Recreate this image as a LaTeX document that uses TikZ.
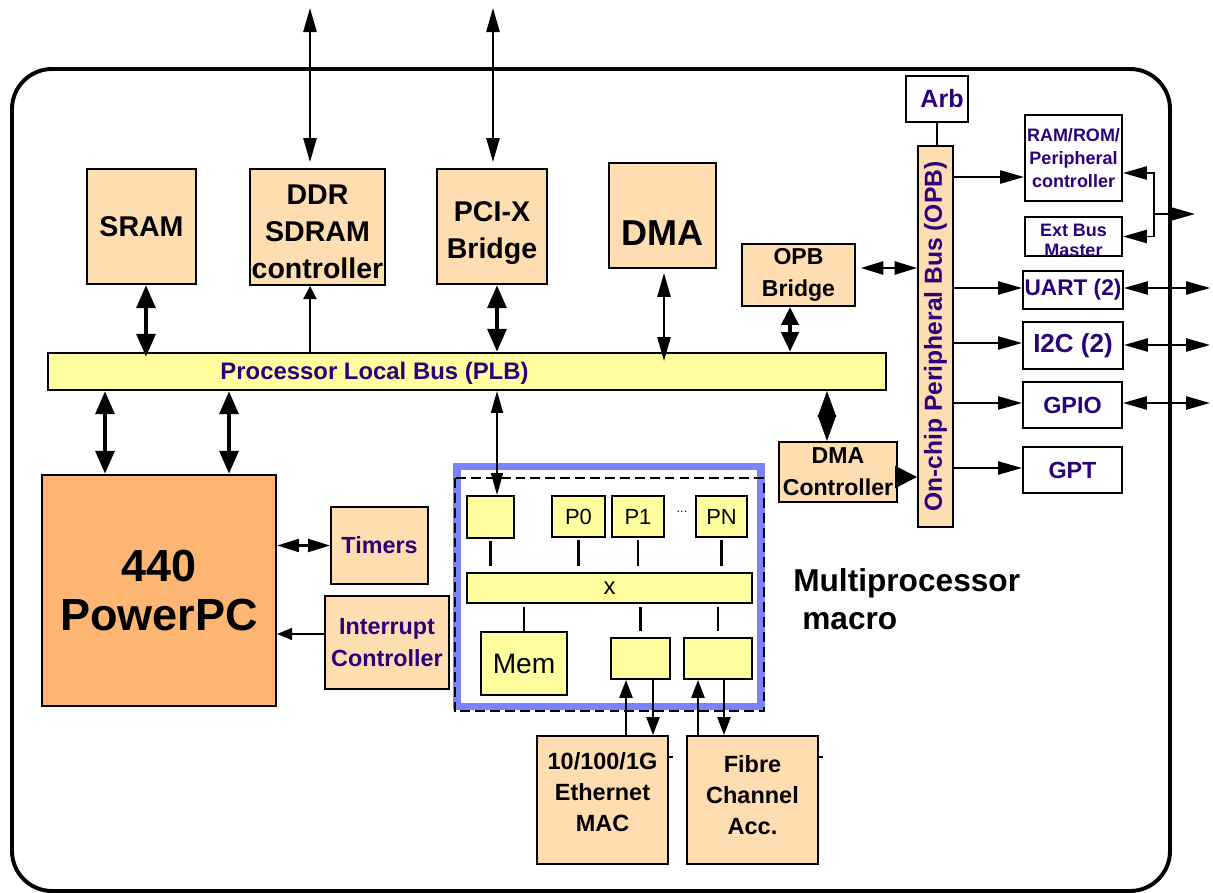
\documentclass[tikz,border=0pt]{standalone}
\usepackage{fontspec}
\setmainfont{Liberation Sans}
\usepackage{graphicx}
\usetikzlibrary{arrows.meta}

\definecolor{peach}{RGB}{254,221,176}
\definecolor{plbyel}{RGB}{255,255,160}
\definecolor{ppcorange}{RGB}{253,181,115}
\definecolor{navy}{RGB}{44,0,122}
\definecolor{mpblue}{RGB}{122,132,248}

\def\pxl{0.025cm}
% invisible struts to nudge text inside a box
\newcommand\hstrut[1]{\rule{0pt}{#1}}
\newcommand\dstrut[1]{\rule[-#1]{0pt}{#1}}

\tikzset{
	blk/.style={draw, line width=1.4pt, fill=peach, inner sep=0pt, align=center, font=\bfseries},
	wbox/.style={blk, fill=white, text=navy},
	ybox/.style={draw, line width=1.4pt, fill=plbyel, inner sep=0pt, align=center},
	sz/.style 2 args={minimum width=#1*\pxl, minimum height=#2*\pxl},
	fnt/.style 2 args={font=\bfseries\fontsize{#1}{#2}\selectfont},
	rfnt/.style 2 args={font=\fontsize{#1}{#2}\selectfont},
	fat/.style={line width=3.5pt, {Triangle[length=0.58cm,width=0.46cm]}-{Triangle[length=0.58cm,width=0.46cm]}},
	diam/.style={line width=1pt, {Triangle[length=0.65cm,width=0.46cm]}-{Triangle[length=0.65cm,width=0.46cm]}},
	lnk/.style={line width=1.4pt, >={Triangle[length=0.6cm,width=0.33cm]}},
	sm/.style={line width=1.4pt, >={Triangle[length=0.45cm,width=0.33cm]}},
	mid/.style={line width=2pt, >={Triangle[length=0.55cm,width=0.32cm]}},
}

\begin{document}
\begin{tikzpicture}[x=\pxl, y=-\pxl, line join=miter]
	\useasboundingbox (0,0) rectangle (1213,893);

	% Chip outline
	\draw[line width=2.8pt, rounded corners=1cm] (12,69) rectangle (1170,891);

	% Blocks above the PLB
	\node[blk, sz={109}{115}, fnt={20.3}{26.3}] (sram) at (141.5,226.5) {SRAM};
	\node[blk, sz={135}{116}, fnt={20.3}{26.3}] (ddr) at (317.5,227) {\hstrut{21pt}DDR\\SDRAM\\controller};
	\node[blk, sz={110}{115}, fnt={20.3}{26.3}] (pcix) at (492,226.5) {\hstrut{24pt}PCI-X\\Bridge};
	\node[blk, sz={107}{105}, fnt={25.6}{30}] (dma) at (662.5,215.5) {\hstrut{42pt}DMA};
	\node[blk, sz={113}{62}, fnt={16.4}{22.7}] (opbbr) at (798.5,275) {OPB\\Bridge};

	% Processor local bus
	\node[ybox, sz={838}{37}] (plb) at (467,371.5) {};
	\node[text=navy, fnt={17}{20}] (plbtxt) at (374.5,373) {Processor Local Bus (PLB)};

	% CPU and its neighbours
	\node[blk, fill=ppcorange, sz={234}{231}, fnt={32}{35.5}] (ppc) at (159,590.5) {440\\PowerPC};
	\node[blk, text=navy, sz={97}{77}, fnt={16.6}{23}] (tmr) at (379.5,545.5) {Timers};
	\node[blk, text=navy, sz={124}{93}, fnt={16.6}{23}] (intc) at (387,642.5) {Interrupt\\Controller};
	\node[blk, sz={118}{60}, fnt={16.4}{22.7}] (dmac) at (838,472) {DMA\\Controller};

	% On-chip peripheral bus and its devices
	\node[blk, text=navy, sz={35}{381}, fnt={17.5}{20}] (opb) at (935.5,336.5) {\rotatebox{90}{On-chip Peripheral Bus (OPB)}};
	\node[wbox, sz={62}{46}, fnt={17.8}{20}] (arb) at (937,99) {\hspace{0.25cm}Arb};
	\node[wbox, sz={97}{86}, fnt={12.8}{16.4}] (ramrom) at (1073.5,158) {RAM/ROM/\\Peripheral\\controller};
	\node[wbox, sz={97}{39}, fnt={12.8}{14.2}] (extbus) at (1073.5,236.5) {\hstrut{14pt}Ext Bus\\Master};
	\node[wbox, sz={100}{38}, fnt={16.1}{20}] (uart) at (1073,290) {UART (2)};
	\node[wbox, sz={100}{47}, fnt={18.5}{20}] (iic) at (1073,345.5) {I2C (2)};
	\node[wbox, sz={99}{46}, fnt={16.6}{20}] (gpio) at (1072.5,405) {GPIO};
	\node[wbox, sz={99}{46}, fnt={16.6}{20}] (gpt) at (1072.5,470) {GPT};

	% Multiprocessor macro
	\draw[mpblue, line width=5pt] (457,466.5) rectangle (761,706.5);
	\draw[line width=1.5pt, dash pattern=on 7pt off 3.6pt] (455,478) rectangle (764,711);
	\node[ybox, sz={47}{42}] (mpin) at (490.5,517) {};
	\node[ybox, sz={53}{41}, rfnt={15.6}{18}] (p0) at (578.5,516.5) {P0};
	\node[ybox, sz={52}{41}, rfnt={15.6}{18}] (p1) at (638,516.5) {P1};
	\node[ybox, sz={51}{41}, rfnt={15.6}{18}] (pn) at (721.5,516.5) {PN};
	\node[rfnt={9}{10}] (dots) at (682,512) {...};
	\node[ybox, sz={285}{30}, rfnt={17}{20}] (xbar) at (609.5,588) {x};
	\node[ybox, sz={86}{63}, rfnt={20}{24}] (mem) at (524,663.5) {Mem};
	\node[ybox, sz={59}{41}] (ethp) at (640.5,658.5) {};
	\node[ybox, sz={68}{41}] (fcp) at (718,658.5) {};
	\node[anchor=north west, inner sep=0pt, align=left, fnt={22.5}{27}] (mplabel) at (793,568) {Multiprocessor\\\hspace{0.225cm}macro};

	% Links inside the macro
	\foreach \n in {mpin,p0,p1,pn}
		\draw[line width=1.6pt] ([yshift=-2*\pxl]\n.south) -- ([yshift=6*\pxl]\n.south |- xbar.north);
	\draw[line width=1.6pt] ([yshift=-3*\pxl]xbar.south -| mem.north) -- (mem.north);
	\foreach \n in {ethp,fcp}
		\draw[line width=1.6pt] ([yshift=-3*\pxl]xbar.south -| \n.north) -- ([yshift=6*\pxl]\n.north);

	% Network blocks
	\node[blk, sz={131}{128}, fnt={16.7}{22}] (eth) at (602.5,800) {10/100/1G\\Ethernet\\MAC\dstrut{11pt}};
	\node[blk, sz={131}{128}, fnt={16.7}{22}] (fc) at (752.5,800) {Fibre\\Channel\\Acc.\dstrut{7pt}};
	\draw[line width=1.4pt] (eth.east |- 0,757) -- ++(4,0);
	\draw[line width=1.4pt] (fc.east |- 0,757) -- ++(4,0);
	\draw[sm, ->] (eth.north -| 626,0) -- (ethp.south -| 626,0);
	\draw[sm, ->] (ethp.south -| 653,0) -- (eth.north -| 653,0);
	\draw[sm, ->] (fc.north -| 698,0) -- (fcp.south -| 698,0);
	\draw[sm, ->] (fcp.south -| 724,0) -- (fc.north -| 724,0);

	% Off-chip ports
	\coordinate (ddrext) at (310,8);
	\coordinate (pcixext) at (493,8);
	\draw[lnk, <->] (ddrext) -- ([yshift=6*\pxl]ddr.north -| ddrext);
	\draw[lnk, <->] (pcixext) -- ([yshift=6*\pxl]pcix.north -| pcixext);

	% PLB connections
	\draw[fat] (sram.south -| 146,0) -- ([yshift=-5*\pxl]plb.north -| 146,0);
	\draw[fat] (pcix.south -| 497,0) -- (plb.north -| 497,0);
	\draw[fat, {Triangle[length=0.45cm,width=0.42cm]}-{Triangle[length=0.5cm,width=0.42cm]}] (opbbr.south -| 790,0) -- (plb.north -| 790,0);
	\draw[fat] (plb.south -| 105,0) -- (ppc.north -| 105,0);
	\draw[fat] (plb.south -| 229,0) -- (ppc.north -| 229,0);
	\draw[lnk, >={Triangle[length=0.33cm,width=0.33cm]}, ->] (plb.north -| 310,0) -- (ddr.south -| 310,0);
	\draw[lnk, <->] ([yshift=-4*\pxl]dma.south -| 664,0) -- ([yshift=-9*\pxl]plb.north -| 664,0);
	\draw[lnk, >={Triangle[length=0.55cm,width=0.3cm]}, <->] (plb.south -| 497,0) -- (mpin.north -| 497,0);
	\draw[diam] (plb.south -| 827,0) -- (dmac.north -| 827,0);

	% CPU side links
	\draw[mid, <->] (ppc.east |- tmr) -- (tmr.west);
	\draw[sm, >={Triangle[length=0.38cm,width=0.3cm]}, ->] (intc.west |- 0,634) -- (ppc.east |- 0,634);

	% OPB links
	\draw[line width=1.4pt] (arb.south) -- (arb.south |- opb.north);
	\draw[line width=1.4pt, {Triangle[length=0.55cm,width=0.55cm]}-] (opb.west |- 0,477) -- (dmac.east |- 0,477);
	\draw[lnk, >={Triangle[length=0.56cm,width=0.33cm]}, <->] ([xshift=5*\pxl]opbbr.east |- 0,268) -- (opb.west |- 0,268);
	\foreach \p/\y in {ramrom/177, uart/288, iic/343, gpio/403, gpt/468}
		\draw[lnk, ->] (opb.east |- 0,\y) -- (\p.west |- 0,\y);
	\foreach \p/\y in {uart/288, iic/345, gpio/403} {
		\coordinate (\p-out) at (1210,\y);
		\draw[lnk, <->] (\p.east |- 0,\y) -- (\p-out);
	}

	% External bus bracket
	\coordinate (brk) at (1154,214);
	\coordinate (extout) at (1195,214);
	\draw[lnk, <->] ([yshift=-15*\pxl]ramrom.east) -- (brk |- 0,173) |- (extbus.east);
	\draw[lnk, ->] (brk) -- (extout);
\end{tikzpicture}
\end{document}
